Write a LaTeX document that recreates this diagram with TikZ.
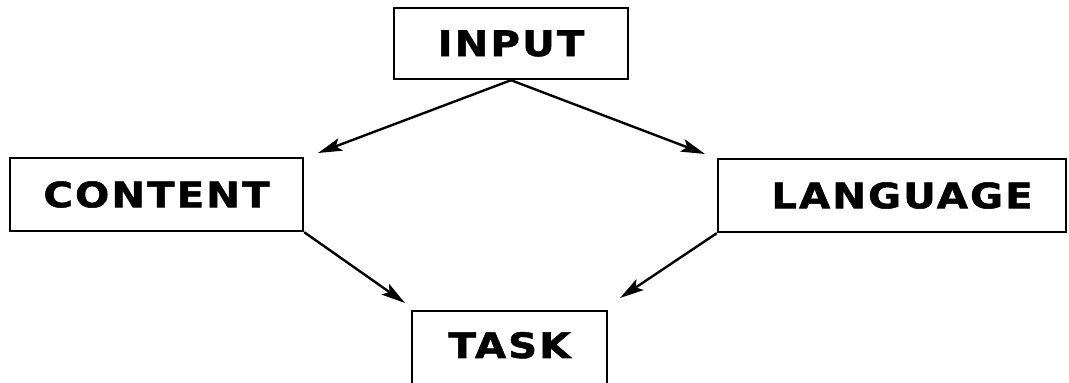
\documentclass[tikz,border=0pt]{standalone}
\usepackage{fontspec}
\usepackage{tikz}
\usetikzlibrary{arrows.meta}
\newfontfamily\boxfont{DejaVu Sans}[FakeStretch=1.15,LetterSpace=6,FakeBold=1.5]
\tikzset{
  blk/.style ={rectangle, draw=black, line width=2.4pt, fill=white,
               inner sep=0pt, align=center,
               font=\boxfont\bfseries\fontsize{35}{40}\selectfont},
  ar/.style  ={-{Stealth[length=24pt,width=13pt,inset=5pt]}, line width=2.4pt, draw=black},
}
\begin{document}
\begin{tikzpicture}[x=1pt,y=-1pt]
\clip (0,0) rectangle (1069,383);
\fill[white] (0,0) rectangle (1069,383);

\node[blk, minimum width=234pt, minimum height=71pt] (input) at (511,43.5) {INPUT};
\node[blk, minimum width=293pt, minimum height=73pt] (content) at (156.5,194.5) {CONTENT};
\node[blk, minimum width=348pt, minimum height=73pt] (language) at (892,195.5) {\hspace*{20pt}LANGUAGE};
\node[blk, minimum width=195pt, minimum height=84pt, text depth=16pt] (task) at (509.5,353) {TASK};

\coordinate (cIn) at (318,153);
\coordinate (lIn) at (705,154);
\coordinate (tL) at (405,303);
\coordinate (tR) at (620,298);

\draw[ar] (input.south) -- (cIn);
\draw[ar] (input.south) -- (lIn);
\draw[ar] (content.south east) -- (tL);
\draw[ar] (language.south west) -- (tR);
\end{tikzpicture}
\end{document}
